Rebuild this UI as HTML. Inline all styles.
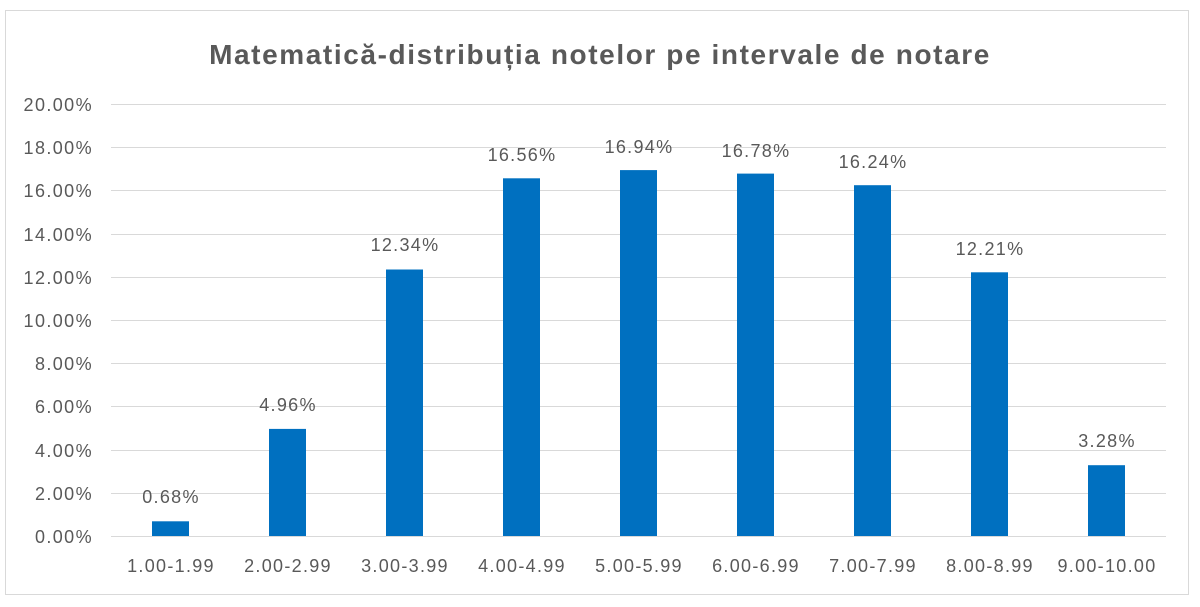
<!DOCTYPE html><html><head><style>body{margin:0;background:#fff}svg text{font-family:"Liberation Sans",sans-serif;fill:#595959}</style></head><body>
<svg width="1200" height="602" xmlns="http://www.w3.org/2000/svg">
<rect x="5.5" y="10.5" width="1183" height="584" fill="#fff" stroke="#d9d9d9"/>
<text x="600" y="64" font-size="28" font-weight="bold" text-anchor="middle" letter-spacing="1.6">Matematică-distribuția notelor pe intervale de notare</text>
<g stroke="#d9d9d9" stroke-width="1">
<line x1="111" x2="1166" y1="104.5" y2="104.5"/><line x1="111" x2="1166" y1="147.5" y2="147.5"/><line x1="111" x2="1166" y1="190.5" y2="190.5"/><line x1="111" x2="1166" y1="234.5" y2="234.5"/><line x1="111" x2="1166" y1="277.5" y2="277.5"/><line x1="111" x2="1166" y1="320.5" y2="320.5"/><line x1="111" x2="1166" y1="363.5" y2="363.5"/><line x1="111" x2="1166" y1="406.5" y2="406.5"/><line x1="111" x2="1166" y1="450.5" y2="450.5"/><line x1="111" x2="1166" y1="493.5" y2="493.5"/><line x1="111" x2="1166" y1="536.5" y2="536.5"/>
</g>
<g font-size="18" text-anchor="end" letter-spacing="1.4">
<text x="93" y="111">20.00%</text><text x="93" y="154">18.00%</text><text x="93" y="197">16.00%</text><text x="93" y="241">14.00%</text><text x="93" y="284">12.00%</text><text x="93" y="327">10.00%</text><text x="93" y="370">8.00%</text><text x="93" y="413">6.00%</text><text x="93" y="457">4.00%</text><text x="93" y="500">2.00%</text><text x="93" y="543">0.00%</text>
</g>
<g fill="#0070c0">
<rect x="152" y="521.3" width="37" height="14.7"/>
<rect x="269" y="428.9" width="37" height="107.1"/>
<rect x="386" y="269.5" width="37" height="266.5"/>
<rect x="503" y="178.3" width="37" height="357.7"/>
<rect x="620" y="170.1" width="37" height="365.9"/>
<rect x="737" y="173.6" width="37" height="362.4"/>
<rect x="854" y="185.2" width="37" height="350.8"/>
<rect x="971" y="272.3" width="37" height="263.7"/>
<rect x="1088" y="465.2" width="37" height="70.8"/>
</g>
<g font-size="18" text-anchor="middle" letter-spacing="1.3">
<text x="171" y="503">0.68%</text><text x="288" y="411">4.96%</text><text x="405" y="251">12.34%</text><text x="522" y="161">16.56%</text><text x="639" y="153">16.94%</text><text x="756" y="157">16.78%</text><text x="873" y="168">16.24%</text><text x="990" y="255">12.21%</text><text x="1107" y="447">3.28%</text>
<text x="171" y="572">1.00-1.99</text><text x="288" y="572">2.00-2.99</text><text x="405" y="572">3.00-3.99</text><text x="522" y="572">4.00-4.99</text><text x="639" y="572">5.00-5.99</text><text x="756" y="572">6.00-6.99</text><text x="873" y="572">7.00-7.99</text><text x="990" y="572">8.00-8.99</text><text x="1107" y="572">9.00-10.00</text>
</g>
</svg></body></html>
